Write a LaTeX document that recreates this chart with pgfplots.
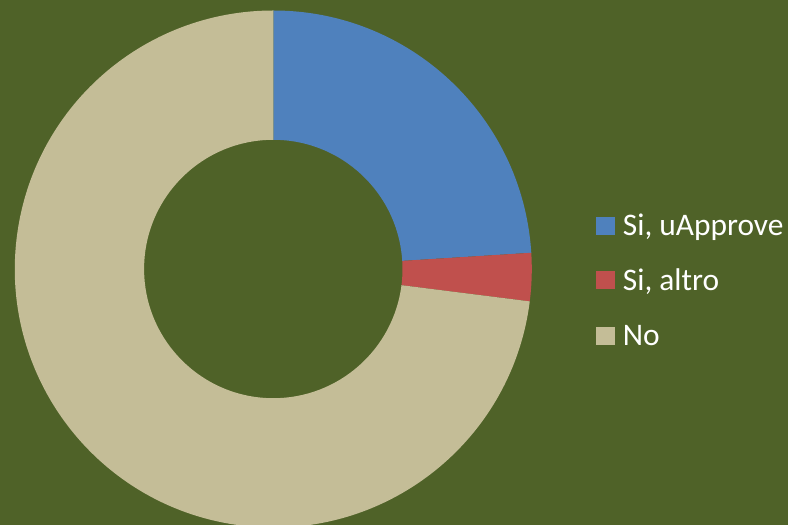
\documentclass[border=0pt]{standalone}
\usepackage{pgfplots}
\pgfplotsset{compat=1.18}
\usepackage{pgfplotstable}
\usepackage{fontspec}
\setmainfont{Carlito}
\definecolor{bg}{HTML}{4F6228}
\definecolor{sA}{HTML}{4F81BD}
\definecolor{sB}{HTML}{C0504D}
\definecolor{sC}{HTML}{C4BD97}
\pgfplotstableread{
label value
uApprove 24
altro 3
No 73
}\datatable
\begin{document}
\begin{tikzpicture}
\pgfplotstablegetelem{0}{value}\of\datatable \edef\va{\pgfplotsretval}
\pgfplotstablegetelem{1}{value}\of\datatable \edef\vb{\pgfplotsretval}
\pgfplotstablegetelem{2}{value}\of\datatable \edef\vc{\pgfplotsretval}
\pgfmathsetmacro\tot{\va+\vb+\vc}
\pgfmathsetmacro\aA{90}
\pgfmathsetmacro\aB{90-360*\va/\tot}
\pgfmathsetmacro\aC{90-360*(\va+\vb)/\tot}
\pgfmathsetmacro\aD{90-360}
\def\Ro{129.25pt}
\def\Ri{64.6pt}
\def\cx{273.3}
\def\cy{256}
\begin{axis}[x=0.5pt, y=0.5pt, xmin=0, xmax=788, ymin=0, ymax=525, hide axis]
\fill[bg] (axis cs:0,0) rectangle (axis cs:788,525);
\fill[sA] ([shift={(\aA:\Ro)}]axis cs:\cx,\cy) arc[start angle=\aA, end angle=\aB, radius=\Ro]
  -- ([shift={(\aB:\Ri)}]axis cs:\cx,\cy) arc[start angle=\aB, end angle=\aA, radius=\Ri] -- cycle;
\fill[sB] ([shift={(\aB:\Ro)}]axis cs:\cx,\cy) arc[start angle=\aB, end angle=\aC, radius=\Ro]
  -- ([shift={(\aC:\Ri)}]axis cs:\cx,\cy) arc[start angle=\aC, end angle=\aB, radius=\Ri] -- cycle;
\fill[sC] ([shift={(\aC:\Ro)}]axis cs:\cx,\cy) arc[start angle=\aC, end angle=\aD, radius=\Ro]
  -- ([shift={(\aD:\Ri)}]axis cs:\cx,\cy) arc[start angle=\aD, end angle=\aC, radius=\Ri] -- cycle;
% legend
\fill[sA] (axis cs:596,289.5) rectangle (axis cs:614.5,307.5);
\fill[sB] (axis cs:596,235.5) rectangle (axis cs:614.5,253.5);
\fill[sC] (axis cs:596,180) rectangle (axis cs:614.5,198);
\node[anchor=base west, inner sep=0pt, text=white, font=\fontsize{15.7}{18}\selectfont] at (axis cs:622.5,289) {Si, uApprove};
\node[anchor=base west, inner sep=0pt, text=white, font=\fontsize{15.7}{18}\selectfont] at (axis cs:622.5,234.3) {Si, altro};
\node[anchor=base west, inner sep=0pt, text=white, font=\fontsize{15.7}{18}\selectfont] at (axis cs:622.5,179.3) {No};
\end{axis}
\end{tikzpicture}
\end{document}
